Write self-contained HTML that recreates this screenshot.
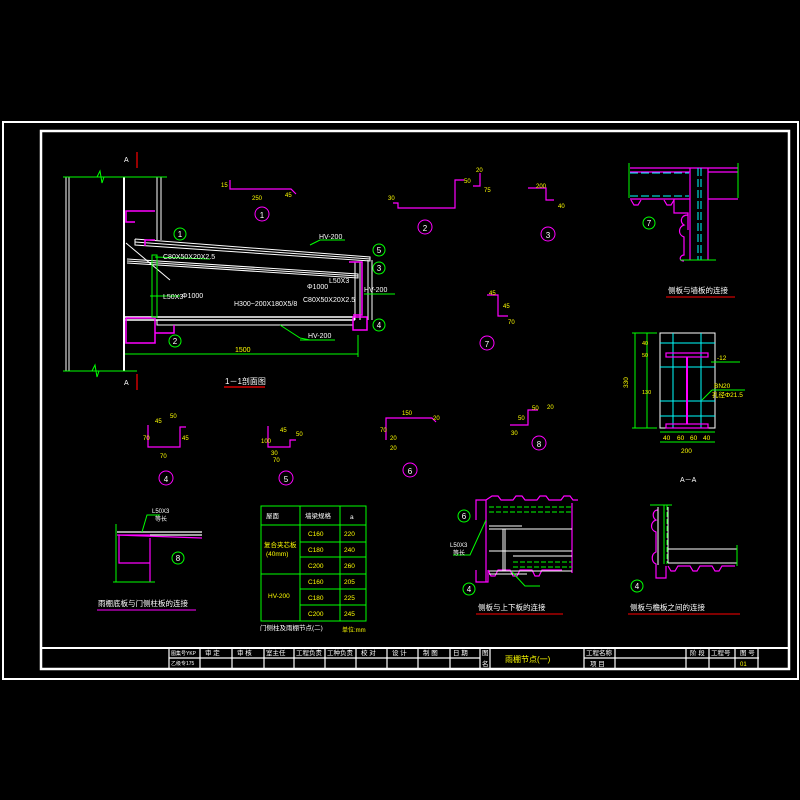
<!DOCTYPE html>
<html><head><meta charset="utf-8"><style>
html,body{margin:0;padding:0;background:#000;}
svg{display:block}
text{font-family:"Liberation Sans","Noto Sans CJK SC",sans-serif;}
</style></head><body>
<svg width="800" height="800" viewBox="0 0 800 800" xmlns="http://www.w3.org/2000/svg">
<rect width="800" height="800" fill="#000"/>
<!-- frames -->
<rect x="3" y="122" width="795" height="557" fill="none" stroke="#fff" stroke-width="2"/>
<rect x="41" y="131" width="748" height="538" fill="none" stroke="#fff" stroke-width="2.5"/>
<!-- title block -->
<g stroke="#fff" stroke-width="1.2" fill="none">
<line x1="41" y1="648" x2="789" y2="648" stroke-width="2"/>
<line x1="169" y1="658" x2="480" y2="658"/>
<line x1="584" y1="658" x2="759" y2="658"/>
<line x1="169" y1="648" x2="169" y2="669"/>
<line x1="200" y1="648" x2="200" y2="669"/>
<line x1="232" y1="648" x2="232" y2="669"/>
<line x1="264" y1="648" x2="264" y2="669"/>
<line x1="294" y1="648" x2="294" y2="669"/>
<line x1="325" y1="648" x2="325" y2="669"/>
<line x1="356" y1="648" x2="356" y2="669"/>
<line x1="387" y1="648" x2="387" y2="669"/>
<line x1="418" y1="648" x2="418" y2="669"/>
<line x1="450" y1="648" x2="450" y2="669"/>
<line x1="480" y1="648" x2="480" y2="669"/>
<line x1="490" y1="648" x2="490" y2="669"/>
<line x1="584" y1="648" x2="584" y2="669"/>
<line x1="615" y1="648" x2="615" y2="669"/>
<line x1="686" y1="648" x2="686" y2="669"/>
<line x1="709" y1="648" x2="709" y2="669"/>
<line x1="735" y1="648" x2="735" y2="669"/>
<line x1="758" y1="648" x2="758" y2="669"/>
</g>
<g fill="#fff" font-size="6.5">
<text x="171" y="655" font-size="5">图集号YKP</text><text x="171" y="665" font-size="5">乙级专175</text>
<text x="205" y="655">审 定</text><text x="237" y="655">审 核</text><text x="266" y="655">室主任</text>
<text x="296" y="655">工程负责</text><text x="327" y="655">工种负责</text><text x="361" y="655">校 对</text>
<text x="392" y="655">设 计</text><text x="423" y="655">制 图</text><text x="453" y="655">日 期</text>
<text x="482" y="655">图</text><text x="482" y="666">名</text>
<text x="586" y="655">工程名称</text><text x="590" y="666">项 目</text>
<text x="690" y="655">阶 段</text><text x="711" y="655">工程号</text><text x="740" y="655">图 号</text>
</g>
<text x="505" y="662" fill="#ff0" font-size="8">雨棚节点(一)</text>
<text x="740" y="666" fill="#ff0" font-size="6">01</text>

<!-- main section 1-1 -->
<g stroke="#fff" stroke-width="1" fill="none">
<line x1="66" y1="177" x2="66" y2="371"/><line x1="69" y1="177" x2="69" y2="371"/>
<line x1="124" y1="177" x2="124" y2="371" stroke-width="2"/>
<line x1="157" y1="177" x2="157" y2="240"/><line x1="161" y1="177" x2="161" y2="240"/>
<polyline points="135,239 135,245 370,261 370,257 135,239"/>
<line x1="135" y1="242" x2="370" y2="259"/>
<polyline points="127,259 358,274 358,278 127,263"/>
<line x1="127" y1="261" x2="358" y2="276"/>
<line x1="355" y1="262" x2="355" y2="320"/><line x1="360" y1="262" x2="360" y2="320"/>
<line x1="368" y1="260" x2="368" y2="320"/><line x1="372" y1="260" x2="372" y2="320"/>
<rect x="124" y="317" width="230" height="3" stroke-width="1.5"/>
<rect x="157" y="320" width="196" height="5"/>
<line x1="126" y1="243" x2="170" y2="280"/>
</g>
<g stroke="#f0f" stroke-width="1.5" fill="none">
<polyline points="155,211 126,211 126,222 135,222"/>
<polyline points="126,318 155,318 155,343 126,343 126,318"/>
<polyline points="155,333 174,333 174,325"/>
<rect x="353" y="317" width="14" height="13"/>
<polyline points="145,246 145,240 155,240"/>
<polyline points="349,262 362,262 362,315 353,315"/>
</g>
<g stroke="#0f0" stroke-width="1" fill="none">
<line x1="63" y1="177" x2="167" y2="177"/><line x1="63" y1="371" x2="137" y2="371"/>
<polyline points="97,177 100,171 102,183 104,177"/>
<polyline points="92,371 95,365 97,377 99,371"/>
<rect x="152" y="255" width="5" height="62"/>
<line x1="125" y1="354" x2="358" y2="354"/>
<line x1="358" y1="335" x2="358" y2="357"/>
<line x1="310" y1="245" x2="320" y2="240"/><line x1="320" y1="240" x2="345" y2="240"/>
<line x1="300" y1="338" x2="310" y2="340"/><line x1="280" y1="325" x2="300" y2="338"/><line x1="300" y1="340" x2="335" y2="340"/>
<line x1="364" y1="294" x2="395" y2="294"/>
<line x1="155" y1="257" x2="210" y2="259"/>
<line x1="150" y1="296" x2="180" y2="296"/>
</g>
<g stroke="#f00" stroke-width="1.2">
<line x1="137" y1="152" x2="137" y2="168"/><line x1="137" y1="374" x2="137" y2="390"/>
<line x1="224" y1="387" x2="265" y2="387"/>
</g>
<g fill="#fff" font-size="7">
<text x="124" y="162">A</text><text x="124" y="385">A</text>
<text x="319" y="239">HV-200</text><text x="364" y="292">HV-200</text><text x="308" y="338">HV-200</text>
<text x="163" y="259">C80X50X20X2.5</text><text x="234" y="306">H300~200X180X5/8</text>
<text x="163" y="299">L50X3</text><text x="182" y="298">Φ1000</text>
<text x="307" y="289">Φ1000</text><text x="329" y="283">L50X3</text><text x="303" y="302">C80X50X20X2.5</text>
</g>
<text x="225" y="384" fill="#fff" font-size="8">1－1剖面图</text>
<text x="235" y="352" fill="#ff0" font-size="7">1500</text>
<!-- circles -->
<g fill="none" stroke="#0f0" stroke-width="1">
<circle cx="180" cy="234" r="6"/><circle cx="379" cy="250" r="6"/><circle cx="379" cy="268" r="6"/>
<circle cx="379" cy="325" r="6"/><circle cx="175" cy="341" r="6"/><circle cx="649" cy="223" r="6"/>
<circle cx="178" cy="558" r="6"/><circle cx="464" cy="516" r="6"/><circle cx="469" cy="589" r="6"/><circle cx="637" cy="586" r="6"/>
</g>
<g fill="none" stroke="#f0f" stroke-width="1">
<circle cx="262" cy="214" r="7"/><circle cx="425" cy="227" r="7"/><circle cx="548" cy="234" r="7"/>
<circle cx="487" cy="343" r="7"/><circle cx="166" cy="478" r="7"/><circle cx="286" cy="478" r="7"/>
<circle cx="410" cy="470" r="7"/><circle cx="539" cy="443" r="7"/>
</g>
<g fill="#fff" font-size="8" text-anchor="middle">
<text x="180" y="237">1</text><text x="379" y="253">5</text><text x="379" y="271">3</text><text x="379" y="328">4</text>
<text x="175" y="344">2</text><text x="649" y="226">7</text><text x="178" y="561">8</text><text x="464" y="519">6</text>
<text x="469" y="592">4</text><text x="637" y="589">4</text>
<text x="262" y="218">1</text><text x="425" y="231">2</text><text x="548" y="238">3</text><text x="487" y="347">7</text>
<text x="166" y="482">4</text><text x="286" y="482">5</text><text x="410" y="474">6</text><text x="539" y="447">8</text>
</g>
<!-- small profiles -->
<g stroke="#f0f" stroke-width="1.2" fill="none">
<polyline points="230,180 230,189 291,189 296,194"/>
<polyline points="393,203 398,203 398,208 455,208 455,180 464,180"/>
<polyline points="480,173 480,186 473,186"/>
<polyline points="528,188 546,188 546,200 554,200"/>
<polyline points="487,295 498,295 498,316 508,316"/>
<polyline points="148,425 148,447 180,447 180,427 186,427"/>
<polyline points="268,426 268,447 290,447 290,440 296,440"/>
<polyline points="386,440 386,418 432,418 436,422"/>
<polyline points="510,425 528,425 528,410 538,410"/>
</g>
<g fill="#ff0" font-size="6">
<text x="252" y="200">250</text><text x="221" y="187">15</text><text x="285" y="197">45</text>
<text x="388" y="200">30</text><text x="464" y="183">50</text><text x="476" y="172">20</text><text x="484" y="192">75</text>
<text x="536" y="188">200</text><text x="558" y="208">40</text>
<text x="489" y="295">45</text><text x="503" y="308">45</text><text x="508" y="324">70</text>
<text x="155" y="423">45</text><text x="170" y="418">50</text><text x="143" y="440">70</text><text x="182" y="440">45</text><text x="160" y="458">70</text>
<text x="261" y="443">100</text><text x="271" y="455">30</text><text x="280" y="432">45</text><text x="296" y="436">50</text><text x="273" y="462">70</text>
<text x="402" y="415">150</text><text x="380" y="432">70</text><text x="390" y="440">20</text><text x="390" y="450">20</text><text x="433" y="420">20</text>
<text x="532" y="410">50</text><text x="547" y="409">20</text><text x="518" y="420">50</text><text x="511" y="435">30</text>
</g>
<!-- detail 7 top right -->
<g stroke="#f0f" stroke-width="1.2" fill="none">
<line x1="630" y1="168" x2="738" y2="168"/><line x1="630" y1="172" x2="690" y2="172"/><line x1="708" y1="172" x2="738" y2="172"/>
<line x1="630" y1="199" x2="690" y2="199"/><line x1="708" y1="199" x2="738" y2="199"/>
<line x1="690" y1="168" x2="690" y2="260"/><line x1="708" y1="168" x2="708" y2="260"/>
<polyline points="674,199 674,213 688,213 688,230"/>
<path d="M688,215 c-8,0 -8,8 -4,10 c-6,2 -6,10 0,12 l0,18 c-4,0 -6,6 0,6"/>
<path d="M631,200 l3,5 l4,0 l3,-5 M664,200 l3,5 l4,0 l3,-5"/>
</g>
<g stroke="#0ff" stroke-width="1" stroke-dasharray="8,3" fill="none">
<line x1="630" y1="173" x2="689" y2="173"/><line x1="630" y1="196" x2="689" y2="196"/>
<line x1="698" y1="168" x2="698" y2="260"/><line x1="701" y1="168" x2="701" y2="260"/>
</g>
<g stroke="#0f0" stroke-width="1" fill="none">
<line x1="629" y1="163" x2="629" y2="198"/><line x1="738" y1="163" x2="738" y2="198"/>
<line x1="680" y1="260" x2="716" y2="260"/>
</g>
<text x="668" y="293" fill="#fff" font-size="7.5">侧板与墙板的连接</text>
<line x1="666" y1="297" x2="735" y2="297" stroke="#f00" stroke-width="1"/>
<!-- A-A -->
<rect x="660" y="333" width="55" height="95" fill="none" stroke="#fff" stroke-width="1"/>
<g stroke="#0ff" stroke-width="1">
<line x1="673" y1="333" x2="673" y2="428"/><line x1="701" y1="333" x2="701" y2="428"/>
<line x1="660" y1="343" x2="715" y2="343"/><line x1="660" y1="367" x2="715" y2="367"/>
<line x1="660" y1="401" x2="715" y2="401"/><line x1="660" y1="416" x2="715" y2="416"/>
</g>
<g stroke="#f0f" stroke-width="1.2" fill="none">
<rect x="666" y="353" width="42" height="4"/><rect x="666" y="424" width="42" height="4"/>
<line x1="687" y1="357" x2="687" y2="424" stroke-width="2"/>
</g>
<g stroke="#0f0" stroke-width="1" fill="none">
<line x1="635" y1="333" x2="635" y2="428"/><line x1="647" y1="333" x2="647" y2="428"/>
<line x1="632" y1="333" x2="657" y2="333"/><line x1="632" y1="428" x2="657" y2="428"/>
<line x1="660" y1="432" x2="715" y2="432"/><line x1="660" y1="442" x2="715" y2="442"/>
<line x1="711" y1="362" x2="740" y2="362"/>
<line x1="702" y1="400" x2="712" y2="390"/><line x1="712" y1="390" x2="745" y2="390"/>
</g>
<g fill="#ff0" font-size="6.5">
<text x="628" y="388" transform="rotate(-90 628 388)">330</text>
<text x="663" y="440">40</text><text x="677" y="440">60</text><text x="690" y="440">60</text><text x="703" y="440">40</text>
<text x="681" y="453">200</text><text x="717" y="360">-12</text><text x="714" y="388">BN20</text><text x="712" y="397">孔径Φ21.5</text>
<text x="642" y="345" font-size="5.5">40</text><text x="642" y="357" font-size="5.5">50</text><text x="642" y="394" font-size="5.5">130</text>
</g>
<text x="680" y="482" fill="#fff" font-size="7">A－A</text>
<!-- detail 8 -->
<g stroke="#fff" stroke-width="1.2" fill="none">
<line x1="117" y1="532" x2="202" y2="532"/><line x1="150" y1="535" x2="202" y2="535"/>
</g>
<g stroke="#f0f" stroke-width="1.2" fill="none">
<line x1="117" y1="535" x2="202" y2="538"/>
<polyline points="150,535 119,535 119,563 150,563"/>
<polyline points="150,538 150,582 M155,540 167,540 167,550 152,550"/>
</g>
<g stroke="#0f0" stroke-width="1" fill="none">
<line x1="116" y1="524" x2="116" y2="582"/><line x1="113" y1="582" x2="155" y2="582"/>
<polyline points="142,532 147,515 160,515"/>
</g>
<g fill="#fff" font-size="6"><text x="152" y="513">L50X3</text><text x="155" y="521">等长</text></g>
<text x="98" y="606" fill="#fff" font-size="7.5">雨棚底板与门侧柱板的连接</text>
<line x1="97" y1="610" x2="196" y2="610" stroke="#f0f" stroke-width="1"/>
<!-- table -->
<g stroke="#0f0" stroke-width="1" fill="none">
<rect x="261" y="506" width="105" height="115"/>
<line x1="300" y1="506" x2="300" y2="621"/><line x1="340" y1="506" x2="340" y2="621"/>
<line x1="261" y1="525" x2="366" y2="525"/><line x1="300" y1="542" x2="366" y2="542"/>
<line x1="300" y1="557" x2="366" y2="557"/><line x1="261" y1="574" x2="366" y2="574"/>
<line x1="300" y1="589" x2="366" y2="589"/><line x1="300" y1="605" x2="366" y2="605"/>
</g>
<g fill="#fff" font-size="6.5"><text x="266" y="518">屋面</text><text x="305" y="518">墙梁规格</text><text x="350" y="519">a</text></g>
<g fill="#ff0" font-size="6.5">
<text x="264" y="547">复合夹芯板</text><text x="266" y="556">(40mm)</text><text x="268" y="598">HV-200</text>
<text x="308" y="536">C160</text><text x="344" y="536">220</text>
<text x="308" y="552">C180</text><text x="344" y="552">240</text>
<text x="308" y="568">C200</text><text x="344" y="568">260</text>
<text x="308" y="584">C160</text><text x="344" y="584">205</text>
<text x="308" y="600">C180</text><text x="344" y="600">225</text>
<text x="308" y="616">C200</text><text x="344" y="616">245</text>
</g>
<text x="260" y="630" fill="#fff" font-size="6.5">门侧柱及雨棚节点(二)</text>
<text x="342" y="632" fill="#ff0" font-size="6">单位:mm</text>
<!-- detail 6/4 side-top bottom -->
<g stroke="#f0f" stroke-width="1.2" fill="none">
<polyline points="476,520 476,500 486,500 486,582"/>
<path d="M486,500 l6,-4 h6 l3,4 h12 l3,-4 h6 l3,4 h12 l3,-4 h6 l3,4 h12 l3,-4 h6 l3,4 h5"/>
<line x1="572" y1="503" x2="572" y2="573"/>
<polyline points="476,570 476,582 488,582 488,570"/>
<path d="M488,570 l3,6 h4 l3,-6 h12 l3,6 h4 l3,-6 h12 l3,6 h4 l3,-6 h20"/>
</g>
<g stroke="#fff" stroke-width="1" fill="none">
<line x1="489" y1="529" x2="572" y2="529"/><line x1="489" y1="551" x2="572" y2="551"/>
<line x1="489" y1="526" x2="522" y2="526"/>
<line x1="503" y1="529" x2="503" y2="571"/><line x1="505" y1="529" x2="505" y2="571"/>
<line x1="513" y1="556" x2="572" y2="556"/><line x1="489" y1="571" x2="572" y2="571"/><line x1="489" y1="574" x2="527" y2="574"/>
</g>
<g stroke="#0f0" stroke-width="1" fill="none" stroke-dasharray="5,2">
<line x1="489" y1="507" x2="572" y2="507"/><line x1="489" y1="512" x2="572" y2="512"/>
<line x1="513" y1="562" x2="572" y2="562"/><line x1="513" y1="567" x2="572" y2="567"/>
</g>
<g stroke="#0f0" stroke-width="1" fill="none">
<polyline points="453,555 470,555 486,520"/><polyline points="512,572 525,586 540,586"/>
</g>
<g fill="#fff" font-size="6"><text x="450" y="547">L50X3</text><text x="453" y="555">等长</text></g>
<text x="478" y="610" fill="#fff" font-size="7.5">侧板与上下板的连接</text>
<line x1="476" y1="614" x2="563" y2="614" stroke="#f00" stroke-width="1"/>
<!-- right detail -->
<g stroke="#f0f" stroke-width="1.2" fill="none">
<path d="M658,510 c-6,0 -6,8 -2,10 c-6,2 -6,10 0,12 l0,20 c-5,2 -5,10 0,12 v14 h10 v-12"/>
<path d="M668,566 l3,5 h4 l3,-5 h12 l3,5 h4 l3,-5 h12 l3,5 h4 l3,-5 h13"/>
</g>
<g stroke="#fff" stroke-width="1" fill="none">
<line x1="658" y1="507" x2="658" y2="565"/><line x1="668" y1="507" x2="668" y2="563"/>
<line x1="668" y1="549" x2="737" y2="549"/><line x1="668" y1="563" x2="737" y2="563"/>
</g>
<g stroke="#0f0" stroke-width="1" fill="none">
<line x1="650" y1="505" x2="672" y2="505"/><line x1="664" y1="505" x2="664" y2="564"/>
<line x1="667" y1="505" x2="667" y2="564" stroke-dasharray="5,2"/>
<line x1="737" y1="545" x2="737" y2="566"/>
</g>
<text x="630" y="610" fill="#fff" font-size="7.5">侧板与檐板之间的连接</text>
<line x1="628" y1="614" x2="740" y2="614" stroke="#f00" stroke-width="1"/>
</svg>
</body></html>
